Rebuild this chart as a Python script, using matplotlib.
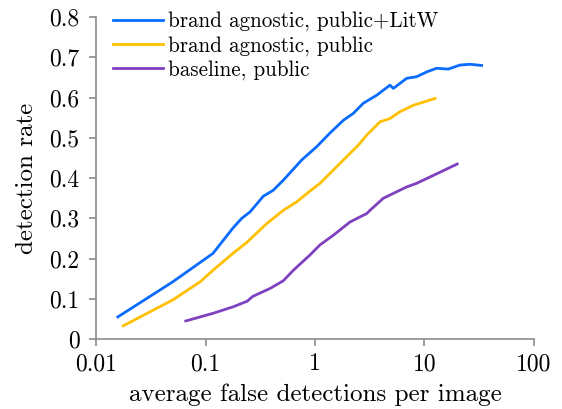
import matplotlib
matplotlib.use("Agg")
import matplotlib.pyplot as plt

# --- data ---
fppi_litw = [0.0158, 0.05, 0.117, 0.178, 0.214, 0.255, 0.337, 0.416, 0.514, 0.755, 1.035,
             1.37, 1.82, 2.24, 2.76, 3.66, 4.84, 5.2, 6.87, 8.47, 10.5, 12.9, 16.5, 21.1,
             26.0, 33.3]
det_litw = [0.055, 0.142, 0.213, 0.276, 0.300, 0.316, 0.355, 0.370, 0.395, 0.445, 0.478,
            0.512, 0.544, 0.561, 0.586, 0.606, 0.631, 0.623, 0.648, 0.652, 0.664, 0.673,
            0.671, 0.681, 0.683, 0.680]

fppi_pub = [0.0177, 0.05, 0.089, 0.117, 0.178, 0.24, 0.362, 0.514, 0.68, 0.9, 1.11, 1.47,
            1.88, 2.49, 2.97, 3.93, 4.84, 5.97, 7.91, 12.5]
det_pub = [0.033, 0.097, 0.142, 0.171, 0.213, 0.241, 0.287, 0.320, 0.341, 0.368, 0.387,
           0.420, 0.449, 0.482, 0.507, 0.540, 0.548, 0.565, 0.581, 0.598]

fppi_base = [0.066, 0.117, 0.178, 0.24, 0.27, 0.39, 0.514, 0.634, 0.9, 1.11, 1.47, 2.09,
             2.97, 3.18, 4.21, 6.87, 8.47, 12.1, 19.9]
det_base = [0.045, 0.064, 0.080, 0.094, 0.106, 0.126, 0.145, 0.171, 0.209, 0.234, 0.258,
            0.291, 0.312, 0.320, 0.350, 0.378, 0.387, 0.407, 0.435]

labels = ["brand agnostic, public+LitW", "brand agnostic, public", "baseline, public"]
colors = ["#0a6cff", "#ffc000", "#7f40c0"]

x_ticks = [0.01, 0.1, 1, 10, 100]
x_tick_labels = ["0.01", "0.1", "1", "10", "100"]
y_ticks = [0, 0.1, 0.2, 0.3, 0.4, 0.5, 0.6, 0.7, 0.8]
y_tick_labels = ["0", "0.1", "0.2", "0.3", "0.4", "0.5", "0.6", "0.7", "0.8"]

plt.rcParams["font.family"] = "cmr10"
plt.rcParams["axes.formatter.use_mathtext"] = True

fig = plt.figure(figsize=(5.62, 4.09), dpi=100)
ax = fig.add_axes([0.171, 0.171, 0.779, 0.787])

for xs, ys, lab, col in zip([fppi_litw, fppi_pub, fppi_base],
                            [det_litw, det_pub, det_base], labels, colors):
    ax.plot(xs, ys, color=col, linewidth=2.0, label=lab)

ax.set_xscale("log")
ax.set_xlim(0.01, 100)
ax.set_ylim(0, 0.8)
ax.set_xticks(x_ticks)
ax.set_xticklabels(x_tick_labels)
ax.set_yticks(y_ticks)
ax.set_yticklabels(y_tick_labels)
ax.minorticks_off()

for side in ["top", "right"]:
    ax.spines[side].set_visible(False)
for side in ["left", "bottom"]:
    ax.spines[side].set_color("#8c8c8c")
    ax.spines[side].set_linewidth(1.2)
ax.tick_params(direction="out", length=5, width=1.2, color="#8c8c8c", labelsize=17)
ax.tick_params(axis="y", pad=7)
ax.tick_params(axis="x", pad=5)

ax.set_xlabel("average false detections per image", fontsize=18, labelpad=6)
ax.set_ylabel("detection rate", fontsize=18, labelpad=8)

ax.legend(loc="upper left", frameon=False, fontsize=15.2, handlelength=2.37,
          handletextpad=0.24, labelspacing=0.21, borderaxespad=0.0, borderpad=0.0,
          bbox_to_anchor=(0.039, 1.018))

fig.savefig("out.png", dpi=100)
plt.close(fig)
